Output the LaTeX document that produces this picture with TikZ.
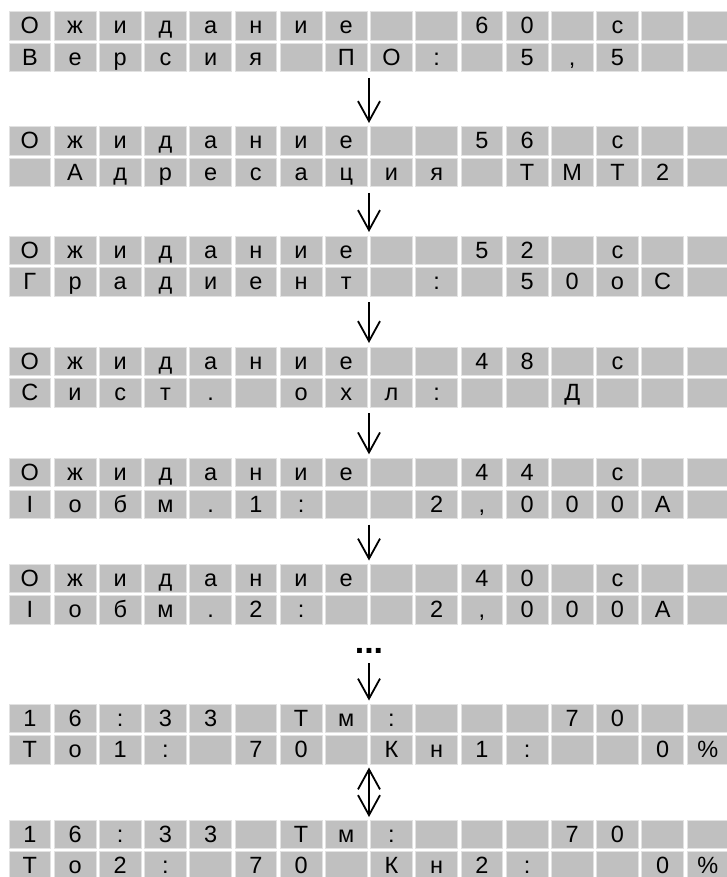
\documentclass[tikz,border=0pt]{standalone}
\usepackage{fontspec}
\setmainfont{Liberation Sans}
\usetikzlibrary{arrows.meta}
\definecolor{cellgray}{RGB}{192,192,192}
\definecolor{celledge}{RGB}{226,226,226}
\tikzset{
  lcdcell/.style={fill=cellgray, draw=celledge, line width=0.8pt, minimum width=41.7pt, minimum height=28.5pt, inner sep=0pt, outer sep=0pt},
  lcdtext/.style={anchor=base, inner sep=0pt, font=\fontsize{23.5}{24}\selectfont},
  arr/.style={line width=1.8pt, -{Straight Barb[length=20pt,width=22pt]}},
  darr/.style={line width=1.8pt, {Straight Barb[length=20pt,width=22pt]}-{Straight Barb[length=20pt,width=22pt]}},
  dots/.style={anchor=base, inner sep=0pt, font=\bfseries\fontsize{34}{34}\selectfont}
}
\newcommand\lcdrow[3]{%
  \foreach \ch [count=\i from 0] in {#3} {
    \pgfmathsetmacro\xl{9+45.2*\i}
    \node[lcdcell, anchor=north west] (#2-\i) at (\xl,#1) {};
    \node[lcdtext] (#2-\i-t) at ([yshift=6.3pt]#2-\i.south) {\ch};
  }}
\begin{document}
\begin{tikzpicture}[x=1pt,y=-1pt]
\useasboundingbox (0,0) rectangle (727,877);
% block 1
\lcdrow{11.7}{a1}{О,ж,и,д,а,н,и,е,{},{},6,0,{},с,{},{}}
\lcdrow{43.4}{a2}{В,е,р,с,и,я,{},П,О,:,{},5,{,},5,{},{}}
% block 2
\lcdrow{126.7}{b1}{О,ж,и,д,а,н,и,е,{},{},5,6,{},с,{},{}}
\lcdrow{158.4}{b2}{{},А,д,р,е,с,а,ц,и,я,{},Т,М,Т,2,{}}
% block 3
\lcdrow{236}{c1}{О,ж,и,д,а,н,и,е,{},{},5,2,{},с,{},{}}
\lcdrow{267.7}{c2}{Г,р,а,д,и,е,н,т,{},:,{},5,0,о,С,{}}
% block 4
\lcdrow{347}{d1}{О,ж,и,д,а,н,и,е,{},{},4,8,{},с,{},{}}
\lcdrow{378.7}{d2}{С,и,с,т,.,{},о,х,л,:,{},{},Д,{},{},{}}
% block 5
\lcdrow{458.3}{e1}{О,ж,и,д,а,н,и,е,{},{},4,4,{},с,{},{}}
\lcdrow{490}{e2}{I,о,б,м,.,1,:,{},{},2,{,},0,0,0,А,{}}
% block 6
\lcdrow{564}{f1}{О,ж,и,д,а,н,и,е,{},{},4,0,{},с,{},{}}
\lcdrow{595.7}{f2}{I,о,б,м,.,2,:,{},{},2,{,},0,0,0,А,{}}
% block 7
\lcdrow{704}{g1}{1,6,:,3,3,{},Т,м,:,{},{},{},7,0,{},{}}
\lcdrow{735.7}{g2}{Т,о,1,:,{},7,0,{},К,н,1,:,{},{},0,\%}
% block 8
\lcdrow{820}{h1}{1,6,:,3,3,{},Т,м,:,{},{},{},7,0,{},{}}
\lcdrow{851.7}{h2}{Т,о,2,:,{},7,0,{},К,н,2,:,{},{},0,\%}
% connector end points
\coordinate (s1) at (369,77.9);  \coordinate (t1) at (369,123);
\coordinate (s2) at (369,192.9); \coordinate (t2) at (369,232);
\coordinate (s3) at (369,302.2); \coordinate (t3) at (369,343);
\coordinate (s4) at (369,413.2); \coordinate (t4) at (369,454.3);
\coordinate (s5) at (369,524.5); \coordinate (t5) at (369,560.5);
\node[dots] (ell) at (369,653.5) {...};
\coordinate (s6) at (369,663);   \coordinate (t6) at (369,700.5);
\coordinate (s7) at (369,767.5); \coordinate (t7) at (369,817);
\draw[arr] (s1) -- (t1);
\draw[arr] (s2) -- (t2);
\draw[arr] (s3) -- (t3);
\draw[arr] (s4) -- (t4);
\draw[arr] (s5) -- (t5);
\draw[arr] (s6) -- (t6);
\draw[darr] (s7) -- (t7);
\end{tikzpicture}
\end{document}
